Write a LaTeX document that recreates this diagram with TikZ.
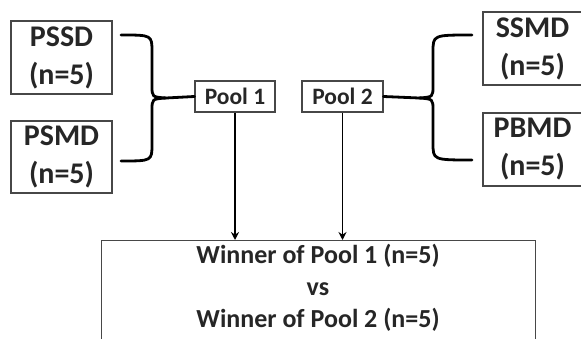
\documentclass[tikz,border=0pt]{standalone}
\usepackage{fontspec}
\setmainfont{Carlito}
\usetikzlibrary{arrows.meta}
\begin{document}
\begin{tikzpicture}[x=1pt,y=-1pt,
  box/.style={draw=black!72,line width=1.2pt,inner sep=0pt,align=center,text=black!85,font=\bfseries},
  teambox/.style={box,font=\fontsize{30}{38}\selectfont\bfseries},
  poolbox/.style={box,font=\fontsize{23.5}{28}\selectfont\bfseries},
  bracket/.style={line width=2.8pt,line cap=round},
  feed/.style={line width=1.9pt,-{Stealth[length=8pt,width=8pt]}}]
\useasboundingbox (0,0) rectangle (581,339);
% team boxes
\node[teambox,minimum width=101pt,minimum height=73pt] (pssd) at (61.5,57.5) {PSSD\\(n=5)};
\node[teambox,minimum width=101pt,minimum height=72pt] (psmd) at (61.5,157) {PSMD\\(n=5)};
\node[teambox,minimum width=99pt,minimum height=73pt] (ssmd) at (532.5,48.5) {SSMD\\(n=5)};
\node[teambox,minimum width=99pt,minimum height=73pt] (pbmd) at (532.5,149.5) {PBMD\\(n=5)};
% pool boxes
\node[poolbox,minimum width=80pt,minimum height=31pt] (pool1) at (235,96.5) {Pool 1};
\node[poolbox,minimum width=81pt,minimum height=31pt] (pool2) at (342.5,96.5) {Pool 2};
% final match
\node[box,minimum width=434pt,minimum height=105pt,anchor=north west] (final) at (101,240) {};
\node[font=\fontsize{26}{32}\selectfont\bfseries,text=black!85,align=center,anchor=base,inner sep=0pt] (finaltext) at (318,327) {Winner of Pool 1 (n=5)\\vs\\Winner of Pool 2 (n=5)};
% brackets joining teams to pools
\coordinate (lt) at (121,35);
\coordinate (lb) at (121,161);
\coordinate (rt) at (472,35);
\coordinate (rb) at (472,160);
\draw[bracket] (lt) .. controls (152,35) .. (152,52) -- (152,86)
  .. controls (152,97) .. (166,98) -- (pool1.west);
\draw[bracket] (lb) .. controls (152,161) .. (152,144) -- (152,110)
  .. controls (152,99) .. (166,98);
\draw[bracket] (rt) .. controls (433,35) .. (433,52) -- (433,86)
  .. controls (433,97) .. (419,98) -- (pool2.east);
\draw[bracket] (rb) .. controls (433,160) .. (433,143) -- (433,110)
  .. controls (433,99) .. (419,98);
% winners advance
\draw[feed] (pool1.south) -- (pool1.south |- final.north);
\draw[feed] (pool2.south) -- (pool2.south |- final.north);
\end{tikzpicture}
\end{document}
